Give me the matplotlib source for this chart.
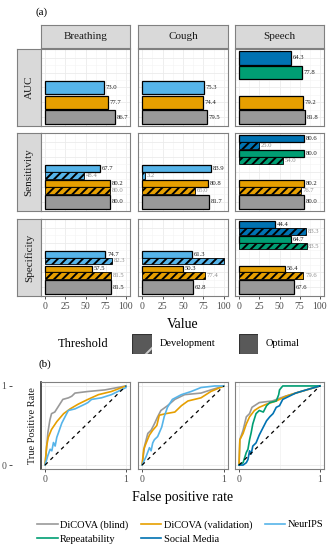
import numpy as np
import matplotlib.pyplot as plt
from matplotlib.patches import Rectangle
from matplotlib.lines import Line2D

plt.rcParams['font.family'] = ['Liberation Serif', 'DejaVu Serif']
plt.rcParams['hatch.linewidth'] = 1.4

# --- Data ---
datasets = ['DiCOVA (blind)', 'DiCOVA (validation)', 'NeurIPS', 'Repeatability', 'Social Media']
colors = ['#999999', '#E69F00', '#56B4E9', '#009E73', '#0072B2']
modalities = ['Breathing', 'Cough', 'Speech']
metrics = ['AUC', 'Sensitivity', 'Specificity']

# values ordered as in datasets; None = not available
auc_opt = {'Breathing': [86.7, 77.7, 73.0, None, None],
           'Cough': [79.5, 74.4, 75.3, None, None],
           'Speech': [81.8, 79.2, None, 77.8, 64.3]}
sens_opt = {'Breathing': [80.0, 80.2, 67.7, None, None],
            'Cough': [81.7, 80.8, 83.9, None, None],
            'Speech': [80.0, 80.2, None, 80.0, 80.6]}
sens_dev = {'Breathing': [None, 80.0, 48.4, None, None],
            'Cough': [None, 65.0, 3.2, None, None],
            'Speech': [None, 76.7, None, 54.0, 25.0]}
spec_opt = {'Breathing': [81.5, 57.5, 74.7, None, None],
            'Cough': [62.8, 50.3, 61.3, None, None],
            'Speech': [67.6, 56.4, None, 64.7, 44.4]}
spec_dev = {'Breathing': [None, 81.5, 82.3, None, None],
            'Cough': [None, 77.4, 100.0, None, None],
            'Speech': [None, 79.6, None, 83.5, 83.3]}
optimal = {'AUC': auc_opt, 'Sensitivity': sens_opt, 'Specificity': spec_opt}
development = {'AUC': None, 'Sensitivity': sens_dev, 'Specificity': spec_dev}

# ROC curves (fpr, tpr)
roc_breathing = {
    'DiCOVA (blind)': ([0, 0.035, 0.06, 0.08, 0.12, 0.17, 0.22, 0.29, 0.33, 0.37, 0.53, 0.74, 1],
                       [0, 0.41, 0.57, 0.65, 0.67, 0.75, 0.83, 0.85, 0.87, 0.91, 0.93, 0.95, 1]),
    'DiCOVA (validation)': ([0, 0.02, 0.04, 0.08, 0.146, 0.23, 0.31, 0.41, 0.53, 0.66, 0.82, 1],
                            [0, 0.24, 0.35, 0.45, 0.55, 0.65, 0.71, 0.77, 0.83, 0.89, 0.93, 1]),
    'NeurIPS': ([0, 0.035, 0.063, 0.084, 0.104, 0.125, 0.145, 0.166, 0.207, 0.247, 0.288, 0.37, 0.493,
                 0.53, 0.575, 0.697, 0.82, 1, 1],
                [0, 0.12, 0.2, 0.18, 0.285, 0.24, 0.35, 0.41, 0.53, 0.61, 0.69, 0.71, 0.77,
                 0.79, 0.83, 0.85, 0.89, 0.98, 1]),
}
roc_cough = {
    'DiCOVA (blind)': ([0, 0.03, 0.07, 0.11, 0.15, 0.19, 0.23, 0.31, 0.4, 0.52, 0.72, 0.84, 1],
                       [0, 0.24, 0.40, 0.44, 0.52, 0.61, 0.69, 0.75, 0.83, 0.89, 0.91, 0.95, 1]),
    'DiCOVA (validation)': ([0, 0.02, 0.05, 0.09, 0.13, 0.18, 0.21, 0.29, 0.4, 0.48, 0.56, 0.72, 0.84, 1],
                            [0, 0.2, 0.28, 0.38, 0.44, 0.5, 0.63, 0.65, 0.67, 0.75, 0.81, 0.85, 0.93, 1]),
    'NeurIPS': ([0, 0.05, 0.09, 0.11, 0.13, 0.15, 0.19, 0.24, 0.27, 0.31, 0.37, 0.48, 0.6, 0.72, 0.89, 1],
                [0, 0.11, 0.22, 0.18, 0.28, 0.32, 0.36, 0.48, 0.61, 0.73, 0.83, 0.89, 0.93, 0.98, 1, 1]),
}
roc_speech = {
    'DiCOVA (blind)': ([0, 0.01, 0.05, 0.09, 0.13, 0.16, 0.25, 0.33, 0.41, 0.57, 0.7, 1],
                       [0, 0.32, 0.44, 0.61, 0.65, 0.73, 0.79, 0.80, 0.81, 0.87, 0.91, 1]),
    'DiCOVA (validation)': ([0, 0.01, 0.05, 0.09, 0.13, 0.19, 0.25, 0.34, 0.46, 0.58, 0.7, 1],
                            [0, 0.32, 0.4, 0.52, 0.61, 0.69, 0.73, 0.77, 0.81, 0.87, 0.91, 1]),
    'Repeatability': ([0, 0.05, 0.09, 0.11, 0.13, 0.15, 0.17, 0.21, 0.25, 0.3, 0.34, 0.38, 0.46,
                       0.49, 0.5, 0.54, 1],
                      [0, 0.03, 0.16, 0.2, 0.32, 0.41, 0.52, 0.65, 0.69, 0.67, 0.75, 0.79, 0.81,
                       0.89, 0.95, 1, 1]),
    'Social Media': ([0, 0.05, 0.09, 0.11, 0.13, 0.15, 0.17, 0.21, 0.25, 0.3, 0.34, 0.38, 0.42,
                      0.46, 0.5, 0.54, 0.62, 0.7, 0.83, 1],
                     [0, 0, 0.03, 0.07, 0.18, 0.14, 0.24, 0.28, 0.38, 0.48, 0.56, 0.61, 0.65,
                      0.73, 0.75, 0.83, 0.87, 0.91, 0.95, 1]),
}
rocs = {'Breathing': roc_breathing, 'Cough': roc_cough, 'Speech': roc_speech}

# --- Layout helpers (pixel boxes) ---
W, H = 334, 550
fig = plt.figure(figsize=(W / 100, H / 100), dpi=100)

def px_axes(x0, y0, x1, y1):
    return fig.add_axes([x0 / W, 1 - y1 / H, (x1 - x0) / W, (y1 - y0) / H])

def fx(x):
    return x / W

def fy(y):
    return 1 - y / H

col_x = [(41, 130), (138, 228), (235, 324)]
row_y = [(49, 126), (133, 211), (219, 296)]
border = '#808080'
gridc = '#ebebeb'
tickc = '#4d4d4d'
XMAX = 105

def style_panel(ax):
    for s in ax.spines.values():
        s.set_color(border)
        s.set_linewidth(0.8)
    ax.set_axisbelow(True)

def bar_label(ax, v, y, color):
    # labels running past the panel edge are cut off in the original
    if v + 12 < XMAX:
        ax.text(v + 2, y, f'{v:.1f}', fontsize=4.8, va='center', ha='left', color=color)

# --- (a) bars ---
fig.text(fx(42), fy(12), '(a)', fontsize=8, ha='center', va='center')

for c, mod in enumerate(modalities):
    sx = px_axes(col_x[c][0], 25, col_x[c][1], 48)
    sx.set_facecolor('#d9d9d9')
    sx.set_xticks([]); sx.set_yticks([])
    for s in sx.spines.values():
        s.set_color(border); s.set_linewidth(0.8)
    sx.text(0.5, 0.5, mod, ha='center', va='center', fontsize=8, color='#1a1a1a',
            transform=sx.transAxes)

for r, metric in enumerate(metrics):
    sy = px_axes(17, row_y[r][0], 41, row_y[r][1])
    sy.set_facecolor('#d9d9d9')
    sy.set_xticks([]); sy.set_yticks([])
    for s in sy.spines.values():
        s.set_color(border); s.set_linewidth(0.8)
    sy.text(0.5, 0.5, metric, ha='center', va='center', fontsize=8, rotation=90,
            color='#1a1a1a', transform=sy.transAxes)

    for c, mod in enumerate(modalities):
        ax = px_axes(col_x[c][0], row_y[r][0], col_x[c][1], row_y[r][1])
        style_panel(ax)
        opt = optimal[metric][mod]
        dev = development[metric][mod] if development[metric] else None
        for i, v in enumerate(opt):
            if v is None:
                continue
            pos = i + 1
            if dev is None or dev[i] is None:
                ax.barh(pos, v, height=0.9, color=colors[i], edgecolor='black', linewidth=0.9)
                bar_label(ax, v, pos, '#1a1a1a')
            else:
                ax.barh(pos + 0.225, v, height=0.45, color=colors[i], edgecolor='black',
                        linewidth=0.9)
                bar_label(ax, v, pos + 0.225, '#1a1a1a')
                d = dev[i]
                ax.barh(pos - 0.225, d, height=0.45, color=colors[i], edgecolor='black',
                        linewidth=0.6, hatch='////')
                bar_label(ax, d, pos - 0.225, '#8c8c8c')
        ax.set_xlim(-5, XMAX)
        ax.set_ylim(0.4, 5.6)
        ax.set_xticks([0, 25, 50, 75, 100])
        ax.set_xticks([12.5, 37.5, 62.5, 87.5], minor=True)
        ax.set_yticks(range(1, 6))
        ax.set_yticks([1.5, 2.5, 3.5, 4.5], minor=True)
        ax.grid(which='major', color=gridc, linewidth=0.6)
        ax.grid(which='minor', color='#f4f4f4', linewidth=0.4)
        ax.tick_params(axis='y', which='both', length=0, labelleft=False)
        ax.tick_params(axis='x', which='minor', length=0)
        if r == 2:
            ax.tick_params(axis='x', which='major', length=2.5, width=0.6, color='#333333',
                           labelsize=7, labelcolor=tickc, pad=1.5)
        else:
            ax.tick_params(axis='x', which='major', length=0, labelbottom=False)

fig.text(fx(183), fy(325), 'Value', fontsize=10, ha='center', va='center')

# threshold legend
fig.text(fx(83), fy(344), 'Threshold', fontsize=9, ha='center', va='center')
kx = px_axes(132, 334, 152, 354)
kx.add_patch(Rectangle((0, 0), 1, 1, facecolor='#595959', edgecolor='#d0d0d0', hatch='/',
                       linewidth=0))
kx.add_patch(Rectangle((0, 0), 1, 1, facecolor='none', edgecolor='#333333', linewidth=0.8))
kx.set_xlim(0, 1); kx.set_ylim(0, 1); kx.axis('off')
fig.text(fx(160), fy(344), 'Development', fontsize=7.5, ha='left', va='center')
ko = px_axes(239, 334, 258, 354)
ko.add_patch(Rectangle((0, 0), 1, 1, facecolor='#595959', edgecolor='#333333', linewidth=0.8))
ko.set_xlim(0, 1); ko.set_ylim(0, 1); ko.axis('off')
fig.text(fx(266), fy(344), 'Optimal', fontsize=7.5, ha='left', va='center')

# --- (b) ROC ---
fig.text(fx(45), fy(364), '(b)', fontsize=8, ha='center', va='center')
roc_y = (382, 469)

st = px_axes(12, roc_y[0], 41, roc_y[1])
st.set_ylim(-0.05, 1.05)
st.set_xticks([])
st.set_yticks([0, 1])
st.tick_params(axis='y', length=2.5, width=0.6, color='#333333', labelsize=7,
               labelcolor=tickc, pad=1.5)
for k in ['top', 'right', 'bottom', 'left']:
    st.spines[k].set_visible(False)
st.text(0.7, 0.5, 'True Positive Rate', rotation=90, ha='center', va='center', fontsize=7.5,
        transform=st.transAxes, color='#1a1a1a')
st.patch.set_alpha(0)

for c, mod in enumerate(modalities):
    ax = px_axes(col_x[c][0], roc_y[0], col_x[c][1], roc_y[1])
    style_panel(ax)
    if c == 0:
        ax.spines['left'].set_color('#333333')
        ax.spines['left'].set_linewidth(1.2)
    for i, name in enumerate(datasets):
        if name in rocs[mod]:
            fpr, tpr = rocs[mod][name]
            ax.plot(fpr, tpr, color=colors[i], linewidth=1.2, zorder=3)
    ax.plot([0, 1], [0, 1], color='black', linestyle=(0, (3, 3)), linewidth=0.9, zorder=4)
    ax.set_xlim(-0.05, 1.05)
    ax.set_ylim(-0.05, 1.05)
    ax.set_xticks([0, 1])
    ax.set_yticks([0, 1])
    ax.set_xticks([0.5], minor=True)
    ax.set_yticks([0.5], minor=True)
    ax.grid(which='major', color=gridc, linewidth=0.6)
    ax.grid(which='minor', color='#f0f0f0', linewidth=0.5)
    ax.tick_params(axis='y', which='both', length=0, labelleft=False)
    ax.tick_params(axis='x', which='minor', length=0)
    ax.tick_params(axis='x', which='major', length=2.5, width=0.6, color='#333333',
                   labelsize=7, labelcolor=tickc, pad=1.5)

fig.text(fx(183), fy(498), 'False positive rate', fontsize=10, ha='center', va='center')

handles = [Line2D([0], [0], color=colors[i], linewidth=1.2) for i in range(5)]
order = [0, 3, 1, 4, 2]
fig.legend([handles[i] for i in order], [datasets[i] for i in order], ncol=3,
           loc='center', bbox_to_anchor=(fx(180), fy(532)), frameon=False, fontsize=7.5,
           handlelength=2.0, handletextpad=0.2, columnspacing=1.2, labelspacing=0.5)

fig.savefig('out.png', dpi=100)
